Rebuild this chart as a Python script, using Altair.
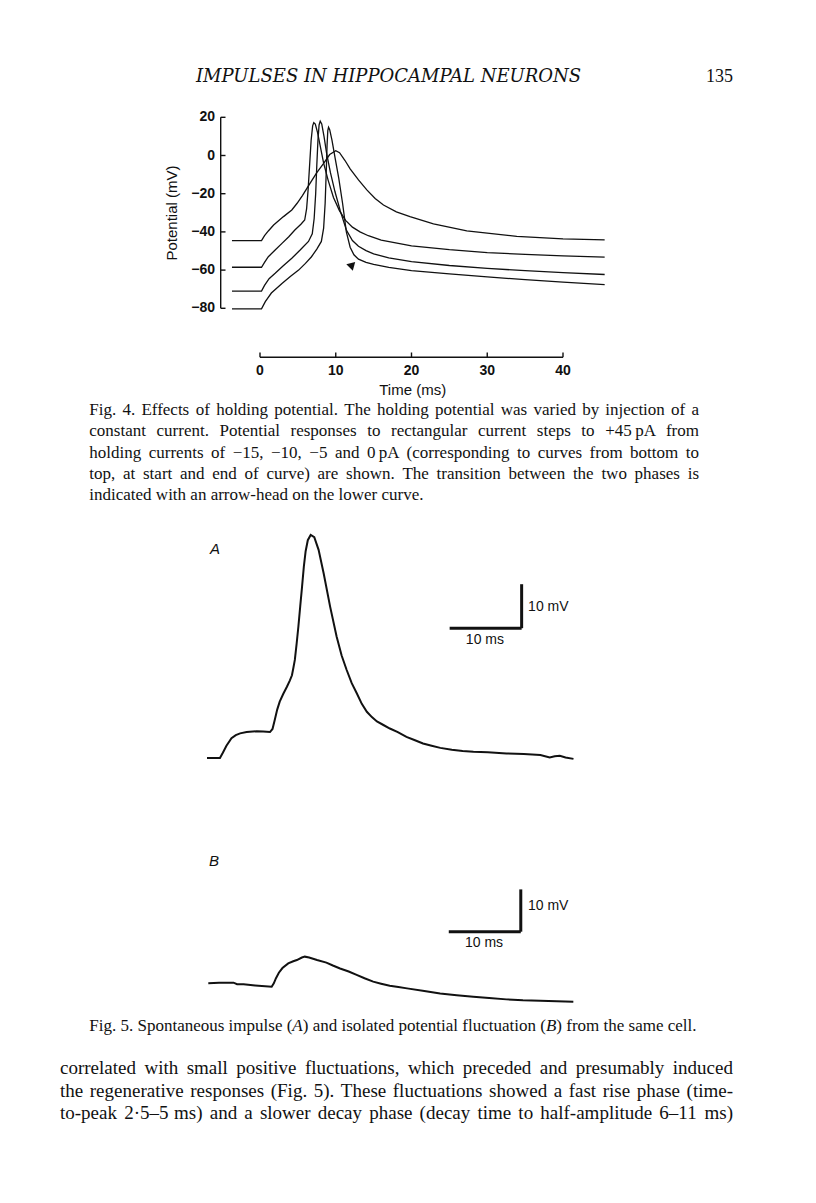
import altair as alt
import pandas as pd

# ---------------- Fig. 4 : four responses at different holding potentials ----------------
c1_t = [-3.7, 0.2, 0.6, 1.1, 1.8, 3.1, 4.2, 4.9, 5.6, 6.6, 7.5, 8.4, 9.2, 10.0, 10.5, 11.2, 11.9,
        13.0, 14.1, 15.2, 16.3, 18.0, 19.8, 22.9, 27.3, 33.9, 40.0, 45.5]
c1_v = [-44.6, -44.6, -42.0, -39.5, -36.4, -32.0, -28.5, -25.0, -21.0, -14.6, -9.0, -4.1, 0.5, 2.5,
        1.5, -2.5, -7.0, -12.8, -18.0, -22.5, -25.9, -29.5, -32.0, -35.8, -39.5, -42.3, -43.6, -44.2]

c2_t = [-3.7, 0.2, 0.6, 1.1, 2.0, 2.9, 3.8, 4.6, 5.4, 5.9, 6.15, 6.35, 6.55, 6.75, 6.95, 7.1, 7.3,
        7.6, 8.0, 8.4, 9.0, 9.7, 10.5, 11.3, 12.2, 13.2, 14.3, 16.0, 20.0, 25.0, 30.0, 35.0, 40.0, 45.5]
c2_v = [-58.5, -58.5, -56.0, -53.0, -49.5, -46.0, -42.5, -39.0, -36.0, -33.8, -28.0, -18.0, -5.0,
        8.0, 15.5, 17.2, 16.5, 12.0, 4.0, -4.0, -13.0, -22.0, -29.0, -34.0, -37.5, -40.0, -42.0,
        -44.3, -47.3, -49.3, -50.8, -51.8, -52.6, -53.2]

c3_t = [-3.7, 0.2, 0.6, 1.2, 2.0, 3.0, 4.2, 5.3, 6.4, 6.9, 7.15, 7.35, 7.5, 7.65, 7.8, 7.95, 8.15,
        8.45, 8.8, 9.3, 9.9, 10.6, 11.4, 12.2, 13.0, 14.0, 15.0, 17.0, 20.0, 25.0, 30.0, 35.0, 40.0, 45.5]
c3_v = [-71.0, -71.0, -68.0, -64.5, -61.7, -58.0, -53.8, -49.5, -45.0, -41.0, -33.0, -20.0, -5.0,
        8.0, 16.0, 18.0, 16.5, 10.0, 1.0, -9.0, -19.0, -29.0, -39.0, -44.5, -47.5, -49.8, -51.5,
        -53.6, -55.6, -57.6, -59.1, -60.3, -61.3, -62.3]

c4_t = [-3.7, 0.2, 0.7, 1.5, 2.9, 4.0, 5.1, 6.0, 6.8, 7.5, 8.1, 8.4, 8.6, 8.75, 8.85, 8.95, 9.05,
        9.2, 9.5, 9.9, 10.4, 10.9, 11.4, 11.9, 12.4, 13.0, 14.0, 15.0, 17.0, 20.0, 25.0, 30.0, 35.0,
        40.0, 45.5]
c4_v = [-80.3, -80.3, -76.5, -72.0, -67.0, -63.3, -60.0, -56.5, -53.0, -49.0, -45.0, -38.0, -25.0,
        -8.0, 5.0, 13.0, 14.8, 13.5, 8.0, -1.0, -12.0, -25.0, -40.0, -48.0, -52.0, -54.3, -56.0,
        -57.0, -58.6, -60.3, -62.0, -63.6, -65.0, -66.3, -67.6]

y4_ticks = [20, 0, -20, -40, -60, -80]
y4_labels = ["20", "0", "\u221220", "\u221240", "\u221260", "\u221280"]
x4_ticks = [0, 10, 20, 30, 40]
x4_labels = ["0", "10", "20", "30", "40"]
arrow_t = [11.9]
arrow_v = [-57.5]

# ---------------- Fig. 5 : spontaneous impulse (A) and fluctuation (B) ----------------
a_t = [0, 1.8, 2.2, 2.7, 3.4, 4.0, 4.6, 5.5, 6.9, 7.8, 8.75, 9.1, 9.4, 9.75, 10.1, 10.6, 11.1, 11.5,
       11.8, 12.0, 12.2, 12.45, 12.7, 12.95, 13.2, 13.45, 13.7, 14.0, 14.4, 14.9, 15.5, 16.2, 17.1,
       18.0, 18.7, 19.4, 20.1, 20.8, 21.5, 22.2, 22.9, 23.6, 24.5, 25.4, 26.5, 27.7, 28.8, 30.0,
       31.2, 32.4, 34.0, 35.5, 37.0, 39.0, 41.6, 44.0, 46.3, 47.6, 48.3, 49.0, 49.8, 50.9]
a_v = [0, 0, 1.2, 2.8, 4.5, 5.2, 5.6, 5.9, 6.1, 6.0, 5.9, 6.6, 8.6, 11.0, 12.8, 14.6, 16.2, 17.6,
       18.8, 20.5, 22.3, 26.0, 30.0, 34.5, 38.9, 43.5, 47.0, 49.5, 50.7, 50.2, 47.3, 42.0, 34.4,
       27.6, 23.3, 20.0, 17.0, 14.7, 12.3, 10.5, 9.3, 8.3, 7.5, 6.7, 5.9, 4.8, 4.1, 3.3,
       2.8, 2.3, 1.9, 1.6, 1.4, 1.3, 1.05, 0.9, 0.7, 0.1, 0.4, 0.5, 0.1, -0.2]

b_t = [0, 1.5, 3.5, 4.0, 4.9, 6.5, 8.8, 9.1, 9.4, 9.8, 10.3, 11.1, 11.8, 12.3, 13.0, 13.4, 14.0,
       15.1, 16.4, 17.3, 18.3, 19.5, 20.6, 21.7, 22.9, 24.0, 25.2, 26.4, 27.6, 30.0, 32.2, 34.5,
       36.8, 39.0, 41.4, 43.7, 46.1, 48.4, 50.7]
b_v = [0, 0.15, 0.15, -0.2, -0.25, -0.5, -0.8, 0, 1.2, 2.5, 3.6, 4.7, 5.2, 5.5, 6.1, 6.3, 6.1,
       5.5, 4.9, 4.2, 3.5, 2.8, 2.0, 1.2, 0.4, -0.1, -0.6, -0.9, -1.2, -1.8, -2.4, -2.8,
       -3.2, -3.5, -3.8, -4.0, -4.1, -4.25, -4.35]

# calibration bars (ms, mV) for each panel
a_bar = {"t0": 33.7, "t1": 43.7, "v0": 29.5, "v1": 39.5}
b_bar = {"t0": 33.4, "t1": 43.4, "v0": 12.2, "v1": 22.2}

# ---------------- page text (words between * are italic) ----------------
header_text = "IMPULSES IN HIPPOCAMPAL NEURONS"
page_number = "135"
caption4 = [
    "Fig. 4. Effects of holding potential. The holding potential was varied by injection of a",
    "constant current. Potential responses to rectangular current steps to +45\u2009pA from",
    "holding currents of \u221215, \u221210, \u22125 and 0\u2009pA (corresponding to curves from bottom to",
    "top, at start and end of curve) are shown. The transition between the two phases is",
    "indicated with an arrow-head on the lower curve.",
]
caption5 = ["Fig. 5. Spontaneous impulse (*A*) and isolated potential fluctuation (*B*) from the same cell."]
body = [
    "correlated with small positive fluctuations, which preceded and presumably induced",
    "the regenerative responses (Fig. 5). These fluctuations showed a fast rise phase (time-",
    "to-peak 2\u00b75\u20135 ms) and a slower decay phase (decay time to half-amplitude 6\u201311 ms)",
]

SANS = "Liberation Sans"
SERIF = "Liberation Serif"
INK = "#111111"

# Times-compatible advance widths (per 1000 em) used to justify the serif text lines
_W = {' ': 250, '(': 333, ')': 333, '+': 564, ',': 250, '-': 333, '.': 250, ':': 278, ';': 278,
      '\u2212': 564, '\u2013': 500, '\u00b7': 250, '\u2009': 167,
      'A': 722, 'B': 667, 'C': 667, 'D': 722, 'E': 611, 'F': 556, 'G': 722, 'H': 722, 'I': 333,
      'J': 389, 'K': 722, 'L': 611, 'M': 889, 'N': 722, 'O': 722, 'P': 556, 'Q': 722, 'R': 667,
      'S': 556, 'T': 611, 'U': 722, 'V': 722, 'W': 944, 'X': 722, 'Y': 722, 'Z': 611,
      'a': 444, 'b': 500, 'c': 444, 'd': 500, 'e': 444, 'f': 333, 'g': 500, 'h': 500, 'i': 278,
      'j': 278, 'k': 500, 'l': 278, 'm': 778, 'n': 500, 'o': 500, 'p': 500, 'q': 500, 'r': 333,
      's': 389, 't': 278, 'u': 500, 'v': 500, 'w': 722, 'x': 500, 'y': 500, 'z': 444}
_WI = {'A': 611, 'B': 611}


def tw(s, size, italic=False):
    tot = 0
    for ch in s:
        if italic and ch in _WI:
            tot += _WI[ch]
        else:
            tot += _W.get(ch, 500)
    return tot * size / 1000.0


def layout_lines(lines, left, right, size, justify_last=False):
    rows = []
    for li, line in enumerate(lines):
        words = line.split(" ")
        parts = []
        for w in words:
            segs = w.split("*")
            parts.append([(s, k % 2 == 1) for k, s in enumerate(segs) if s])
        widths = [sum(tw(s, size, it) for s, it in p) for p in parts]
        last = li == len(lines) - 1
        if len(words) > 1 and (not last or justify_last):
            gap = (right - left - sum(widths)) / (len(words) - 1)
        else:
            gap = tw(" ", size)
        x = left
        for p, w in zip(parts, widths):
            xx = x
            for s, it in p:
                rows.append({"line": li, "x": xx, "s": s, "it": it})
                xx += tw(s, size, it)
            x += w + gap
    return pd.DataFrame(rows)


# ---------------- build tables ----------------
rows = []
for name, ts, vs in [("0 pA", c1_t, c1_v), ("-5 pA", c2_t, c2_v),
                     ("-10 pA", c3_t, c3_v), ("-15 pA", c4_t, c4_v)]:
    for i, (t, v) in enumerate(zip(ts, vs)):
        rows.append({"curve": name, "i": i, "t": t, "v": v})
df4 = pd.DataFrame(rows)

X4 = alt.Scale(domain=[0, 40], range=[252, 555], nice=False, zero=False)
Y4 = alt.Scale(domain=[-80, 20], range=[300.3, 109.3], nice=False, zero=False)


def x4(f):
    return alt.X(f, scale=X4, axis=None)


def y4(f):
    return alt.Y(f, scale=Y4, axis=None)


layers = []

# curves
layers.append(alt.Chart(df4).mark_line(color=INK, strokeWidth=1.3, clip=False).encode(
    x=x4("t:Q"), y=y4("v:Q"), detail="curve:N", order="i:Q"))

# y axis
yax = pd.DataFrame({"lo": [min(y4_ticks)], "hi": [max(y4_ticks)]})
layers.append(alt.Chart(yax).mark_rule(color=INK, strokeWidth=1.4).encode(
    x=alt.value(212.7), y=y4("lo:Q"), y2="hi:Q"))
ytk = pd.DataFrame({"v": y4_ticks, "lab": y4_labels})
layers.append(alt.Chart(ytk).mark_rule(color=INK, strokeWidth=1.4).encode(
    y=y4("v:Q"), x=alt.value(212.7), x2=alt.value(217.5)))
layers.append(alt.Chart(ytk).mark_text(align="right", baseline="middle", font=SANS,
                                       fontSize=14, fontWeight="bold", color=INK).encode(
    y=y4("v:Q"), x=alt.value(207), text="lab:N"))
layers.append(alt.Chart(pd.DataFrame({"s": ["Potential (mV)"]})).mark_text(
    angle=270, align="center", baseline="middle", font=SANS, fontSize=15, color=INK).encode(
    x=alt.value(163.7), y=alt.value(205), text="s:N"))

# x axis
xax = pd.DataFrame({"lo": [min(x4_ticks)], "hi": [max(x4_ticks)]})
layers.append(alt.Chart(xax).mark_rule(color=INK, strokeWidth=1.4).encode(
    x=x4("lo:Q"), x2="hi:Q", y=alt.value(349.3)))
xtk = pd.DataFrame({"t": x4_ticks, "lab": x4_labels})
layers.append(alt.Chart(xtk).mark_rule(color=INK, strokeWidth=1.4).encode(
    x=x4("t:Q"), y=alt.value(344.5), y2=alt.value(349.3)))
layers.append(alt.Chart(xtk).mark_text(align="center", baseline="middle", font=SANS,
                                       fontSize=14, fontWeight="bold", color=INK).encode(
    x=x4("t:Q"), y=alt.value(362.7), text="lab:N"))
layers.append(alt.Chart(pd.DataFrame({"s": ["Time (ms)"]})).mark_text(
    align="center", baseline="middle", font=SANS, fontSize=15, color=INK).encode(
    x=alt.value(404.7), y=alt.value(381.5), text="s:N"))

# arrow-head
layers.append(alt.Chart(pd.DataFrame({"t": arrow_t, "v": arrow_v})).mark_point(
    shape="triangle-left", filled=True, color=INK, opacity=1, size=85, angle=15).encode(
    x=x4("t:Q"), y=y4("v:Q")))


# ---------------- Fig. 5 panels ----------------
def panel(ts, vs, bar, xs, ys, letter, letter_xy, mv_lab, ms_lab):
    out = []
    d = pd.DataFrame({"t": ts, "v": vs, "i": list(range(len(ts)))})

    def X(f):
        return alt.X(f, scale=xs, axis=None)

    def Y(f):
        return alt.Y(f, scale=ys, axis=None)

    out.append(alt.Chart(d).mark_line(color=INK, strokeWidth=2.0, clip=False).encode(
        x=X("t:Q"), y=Y("v:Q"), order="i:Q"))
    bd = pd.DataFrame([bar])
    out.append(alt.Chart(bd).mark_rule(color=INK, strokeWidth=3).encode(
        x=X("t1:Q"), y=Y("v0:Q"), y2="v1:Q"))
    out.append(alt.Chart(bd).mark_rule(color=INK, strokeWidth=3).encode(
        x=X("t0:Q"), x2="t1:Q", y=Y("v0:Q")))
    mv = pd.DataFrame({"t": [mv_lab[0]], "v": [mv_lab[1]], "s": ["10 mV"]})
    out.append(alt.Chart(mv).mark_text(align="left", baseline="middle", font=SANS,
                                       fontSize=14, color=INK).encode(
        x=X("t:Q"), y=Y("v:Q"), text="s:N"))
    ms = pd.DataFrame({"t": [ms_lab[0]], "v": [ms_lab[1]], "s": ["10 ms"]})
    out.append(alt.Chart(ms).mark_text(align="center", baseline="middle", font=SANS,
                                       fontSize=14, color=INK).encode(
        x=X("t:Q"), y=Y("v:Q"), text="s:N"))
    out.append(alt.Chart(pd.DataFrame({"s": [letter]})).mark_text(
        align="center", baseline="middle", font=SANS, fontSize=15, fontStyle="italic",
        color=INK).encode(
        x=alt.value(letter_xy[0]), y=alt.value(letter_xy[1]), text="s:N"))
    return out


XA = alt.Scale(domain=[0, 50], range=[199, 559], nice=False, zero=False)
YA = alt.Scale(domain=[0, 50], range=[750, 530], nice=False, zero=False)
XB = alt.Scale(domain=[0, 50], range=[200.3, 560.3], nice=False, zero=False)
YB = alt.Scale(domain=[0, 10], range=[975.3, 933.0], nice=False, zero=False)

layers += panel(a_t, a_v, a_bar, XA, YA, "A", (207, 541), (44.6, 34.4), (38.6, 26.9))
layers += panel(b_t, b_v, b_bar, XB, YB, "B", (206, 853), (44.4, 18.2), (38.3, 9.6))

# ---------------- page text ----------------
layers.append(alt.Chart(pd.DataFrame({"s": [header_text]})).mark_text(
    align="left", baseline="middle", font="DejaVu Serif", fontSize=18, fontStyle="italic",
    color=INK).encode(x=alt.value(188), y=alt.value(69), text="s:N"))
layers.append(alt.Chart(pd.DataFrame({"s": [page_number]})).mark_text(
    align="right", baseline="middle", font=SERIF, fontSize=18, color=INK).encode(
    x=alt.value(725), y=alt.value(69), text="s:N"))

PAGE = alt.Scale(domain=[0, 800], range=[0, 800], nice=False, zero=False)


def text_block(lines, left, right, y0, spacing, size, justify_last=False):
    d = layout_lines(lines, left, right, size, justify_last)
    out = []
    ysc = alt.Scale(domain=[0, 1], range=[y0, y0 + spacing], nice=False, zero=False)
    for italic in (False, True):
        sub = d[d["it"] == italic]
        if len(sub) == 0:
            continue
        out.append(alt.Chart(sub).mark_text(
            align="left", baseline="middle", font=SERIF, fontSize=size,
            fontStyle="italic" if italic else "normal", color=INK).encode(
            x=alt.X("x:Q", scale=PAGE, axis=None),
            y=alt.Y("line:Q", scale=ysc, axis=None),
            text="s:N"))
    return out


layers += text_block(caption4, 81.3, 691, 402, 21.3, 17)
layers += text_block(caption5, 81.3, 691, 1018, 22, 17)
layers += text_block(body, 52, 725, 1060, 22.5, 19, justify_last=True)

chart = alt.layer(*layers).resolve_scale(x="independent", y="independent").properties(
    width=800, height=1187, autosize=alt.AutoSizeParams(type="none"), padding=0,
    background="white"
).configure_view(stroke=None)

chart.save("out.html", embed_options={"renderer": "svg", "actions": False})
